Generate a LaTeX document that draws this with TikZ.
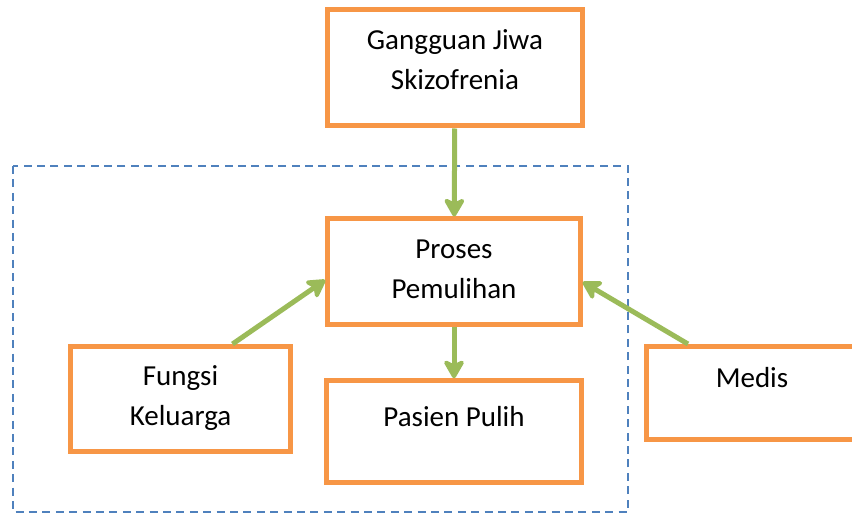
\documentclass[tikz,border=0pt]{standalone}
\usepackage{fontspec}
\setmainfont{Carlito}
\usepackage{tikz}
\usetikzlibrary{arrows.meta,positioning}
\definecolor{oranye}{HTML}{F79646}
\definecolor{hijau}{HTML}{9BBB59}
\definecolor{biru}{HTML}{4F81BD}
\tikzset{
    %Define standard arrow tip
    >={Stealth[length=11pt,width=12.5pt,inset=3pt,round]},
    %Define style for boxes
    kotak/.style={
           rectangle,
           draw=oranye, line width=2.5pt,
           fill=white,
           inner ysep=0pt,
           font=\fontsize{14.5}{20}\selectfont,
           align=center},
    % Define arrow style
    panah/.style={
           ->,
           color=hijau,
           line width=2.5pt},
    % Define style for the dashed frame
    bingkai/.style={
           draw=biru,
           line width=1pt,
           dash pattern=on 4pt off 2.7pt}
}
\begin{document}
\begin{tikzpicture}[x=0.5pt,y=-0.5pt]
\useasboundingbox (0,0) rectangle (852,513);
\clip (0,0) rectangle (852,513);

 %frame
\draw[bingkai] (12.7,166) rectangle (628,511.5);

 %nodes
\node[kotak, minimum width=127.25pt, text height=40.25pt, text depth=18pt] (gangguan) at (455,67.75) {Gangguan Jiwa\\Skizofrenia};
\node[kotak, minimum width=126.25pt, text height=40pt, text depth=13pt] (proses) at (454,272) {Proses\\Pemulihan};
\node[kotak, minimum width=127.5pt, text height=23pt, text depth=28pt] (pasien) at (454,431.75) {Pasien Pulih};
\node[kotak, minimum width=110pt, text height=39.25pt, text depth=13.25pt] (fungsi) at (180.5,399) {Fungsi\\Keluarga};
\node[kotak, minimum width=106pt, text height=20.25pt, text depth=26pt] (medis) at (752,392.75) {Medis};

 %arrows
\path[panah]
    (gangguan) edge (proses)
    (proses) edge (pasien)
    ([xshift=26pt]fungsi.north) edge ([yshift=-4pt]proses.west)
    ([xshift=-32pt]medis.north) edge ([yshift=-5pt]proses.east);

\end{tikzpicture}
\end{document}
